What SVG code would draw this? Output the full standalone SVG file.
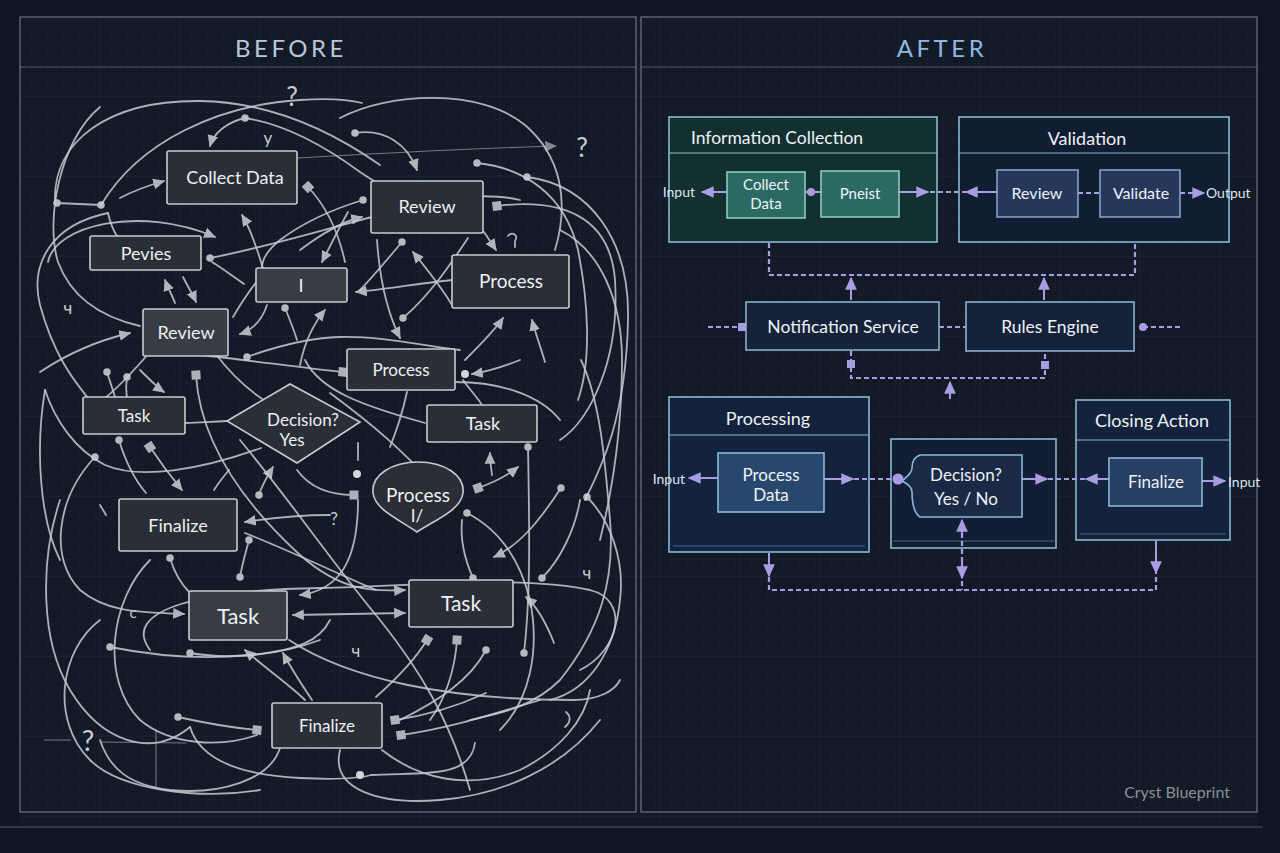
<svg xmlns="http://www.w3.org/2000/svg" width="1280" height="853" viewBox="0 0 1280 853">
<defs>
<pattern id="grid" width="16" height="16" patternUnits="userSpaceOnUse"><path d="M16,0 V16 H0" fill="none" stroke="#1c2534" stroke-width="0.6"/></pattern>
<pattern id="grid2" width="80" height="80" patternUnits="userSpaceOnUse" x="20" y="17"><path d="M80,0 V80 H0" fill="none" stroke="#212b3b" stroke-width="0.8"/></pattern>
<marker id="a" viewBox="0 0 10 10" refX="9" refY="5" markerWidth="12" markerHeight="12" markerUnits="userSpaceOnUse" orient="auto"><path d="M0,0.5 L10,5 L0,9.5 z" fill="#cdd0d5"/></marker>
<marker id="ar" viewBox="0 0 10 10" refX="9" refY="5" markerWidth="12" markerHeight="12" markerUnits="userSpaceOnUse" orient="auto-start-reverse"><path d="M0,0.5 L10,5 L0,9.5 z" fill="#cdd0d5"/></marker>
<marker id="d" viewBox="0 0 10 10" refX="5" refY="5" markerWidth="9" markerHeight="9" markerUnits="userSpaceOnUse"><circle cx="5" cy="5" r="4.2" fill="#d3d6da"/></marker>
<marker id="s" viewBox="0 0 10 10" refX="5" refY="5" markerWidth="10" markerHeight="10" markerUnits="userSpaceOnUse" orient="auto"><rect x="0.5" y="0.5" width="9" height="9" fill="#c9ccd1"/></marker>
<marker id="pa" viewBox="0 0 10 10" refX="9" refY="5" markerWidth="13" markerHeight="13" markerUnits="userSpaceOnUse" orient="auto-start-reverse"><path d="M0,0.5 L10,5 L0,9.5 z" fill="#a99ce3"/></marker>
<marker id="pq" viewBox="0 0 10 10" refX="5" refY="5" markerWidth="9" markerHeight="9" markerUnits="userSpaceOnUse"><rect x="0.5" y="0.5" width="9" height="9" fill="#a99ce3"/></marker>
<marker id="pc" viewBox="0 0 10 10" refX="5" refY="5" markerWidth="9" markerHeight="9" markerUnits="userSpaceOnUse"><circle cx="5" cy="5" r="4.5" fill="#a99ce3"/></marker>
<style>
.w{fill:none;stroke:#c8cbd1;stroke-width:1.8;stroke-linecap:round;opacity:.85}
.wt{fill:none;stroke:#b5b9c0;stroke-width:1.1;opacity:.6}
.nb{fill:#2a2e37;stroke:#c8cbd0;stroke-width:1.6}
.nb2{fill:#383c45;stroke:#c8cbd0;stroke-width:1.6}
.nt{font-family:Lato,"Noto Sans",sans-serif;fill:#eef0f2;text-anchor:middle}
.mk{font-family:Lato,"Noto Sans",sans-serif;fill:#c8ccd2;text-anchor:middle}
.ttl{font-family:Lato,"Noto Sans",sans-serif;font-size:24px;letter-spacing:3.5px;text-anchor:middle}
.g{stroke:#86b9d4;stroke-width:1.6}
.rt{font-family:Lato,"Noto Sans",sans-serif;fill:#eef2f6;text-anchor:middle}
.lab{font-family:Lato,"Noto Sans",sans-serif;fill:#dfe4f0;font-size:14px}
.p{fill:none;stroke:#a99ce3;stroke-width:2}
.pd{fill:none;stroke:#a99ce3;stroke-width:2.2;stroke-dasharray:5 3}
.frame{fill:none;stroke:#6d7584;stroke-width:1.2}
</style>
</defs>
<rect width="1280" height="853" fill="#0f1522"/>
<rect x="20" y="17" width="1237" height="810" fill="#121a27"/>
<rect x="20" y="17" width="1237" height="810" fill="url(#grid)"/>
<rect x="20" y="17" width="1237" height="810" fill="url(#grid2)"/>
<g id="frame">
<rect class="frame" x="20" y="17" width="616" height="795"/>
<rect class="frame" x="641" y="17" width="616" height="795"/>
<line class="frame" x1="0" y1="827" x2="1262" y2="827" opacity="0.7"/>
<line class="frame" x1="20" y1="67" x2="636" y2="67" opacity="0.7"/>
<line class="frame" x1="641" y1="67" x2="1257" y2="67" opacity="0.7"/>
<text class="ttl" x="291" y="57" fill="#b9c6d6">BEFORE</text>
<text class="ttl" x="942" y="57" fill="#8fb8e0">AFTER</text>
</g>

<g id="before-connectors">
<path class="w" d="M55,203 C52,140 110,100 200,101 C270,102 330,130 380,165"/>
<path class="w" d="M101,205 C140,140 220,105 300,100 C330,98 350,100 362,103"/>
<path class="w" d="M340,118 C390,92 480,88 525,125 C560,155 570,200 555,250"/>
<path class="w" d="M245,118 C228,122 214,132 210,146" marker-start="url(#d)" marker-end="url(#a)"/>
<path class="w" d="M245,118 C290,125 330,150 360,172 C375,182 388,190 400,195"/>
<path class="w" d="M355,133 C385,128 408,145 417,170" marker-start="url(#d)" marker-end="url(#a)"/>
<path class="w" d="M477,163 C525,168 565,195 578,250 C588,300 592,360 578,400" marker-start="url(#d)"/>
<path class="wt" d="M230,162 C330,156 450,149 556,146" marker-end="url(#a)"/>
<path class="w" d="M120,198 C135,190 150,185 164,181" marker-end="url(#a)"/>
<path class="w" d="M57,203 L101,205" marker-start="url(#d)" marker-end="url(#d)"/>
<path class="w" d="M48,262 C55,225 140,205 215,237" marker-end="url(#a)"/>
<path class="w" d="M108,213 C110,222 113,230 117,236"/>
<path class="w" d="M210,258 C280,245 370,215 440,200 C470,195 500,195 520,200" marker-start="url(#d)"/>
<path class="w" d="M267,282 C258,250 250,228 242,215" marker-end="url(#a)"/>
<path class="w" d="M308,187 C325,205 338,230 345,262" marker-start="url(#s)"/>
<path class="w" d="M348,212 C337,232 329,248 322,262" marker-end="url(#a)"/>
<path class="w" d="M175,303 C172,295 168,288 165,280" marker-end="url(#a)"/>
<path class="w" d="M183,277 C187,285 192,293 196,302" marker-end="url(#a)"/>
<path class="w" d="M212,262 C225,270 235,278 244,284"/>
<path class="w" d="M100,107 C60,140 45,220 58,262 C72,300 105,318 140,326"/>
<path class="w" d="M108,213 C50,225 30,265 40,305 C55,360 78,385 88,398"/>
<path class="w" d="M40,372 C70,352 100,340 130,333" marker-end="url(#a)"/>
<path class="w" d="M267,305 C262,320 252,330 240,334" marker-end="url(#a)"/>
<path class="w" d="M233,317 C240,305 250,290 258,280"/>
<path class="w" d="M285,308 C290,320 294,330 297,340" marker-start="url(#d)"/>
<path class="w" d="M300,365 C305,340 315,322 325,310" marker-end="url(#a)"/>
<path class="w" d="M247,357 C280,345 310,338 340,337 C380,336 420,345 460,350" marker-start="url(#d)"/>
<path class="w" d="M363,200 C330,210 300,225 280,240 C265,252 262,262 262,268" marker-start="url(#d)"/>
<path class="w" d="M300,250 C320,235 340,222 362,217" marker-end="url(#a)"/>
<path class="w" d="M402,242 C385,262 372,278 360,290" marker-start="url(#d)"/>
<path class="w" d="M452,280 C420,283 390,289 356,292" marker-end="url(#a)"/>
<path class="w" d="M377,240 C380,285 390,318 400,338" marker-end="url(#a)"/>
<path class="w" d="M452,305 C440,285 426,268 413,252" marker-end="url(#a)"/>
<path class="w" d="M468,238 C450,265 430,295 403,318" marker-end="url(#d)"/>
<path class="w" d="M465,360 C480,345 495,330 503,318" marker-end="url(#a)"/>
<path class="w" d="M545,362 C540,345 535,332 532,320" marker-end="url(#a)"/>
<path class="w" d="M497,206 C560,198 610,215 615,280 C620,360 590,420 560,440" marker-start="url(#s)"/>
<path class="w" d="M527,177 C590,185 630,240 628,320 C626,420 600,470 585,500" marker-start="url(#d)"/>
<path class="w" d="M560,230 C600,250 622,300 622,360 C622,440 610,500 600,540"/>
<path class="w" d="M484,232 C488,238 492,244 496,250" marker-end="url(#a)"/>
<path class="w" d="M150,352 C130,375 115,390 105,398"/>
<path class="w" d="M200,355 C250,360 300,368 343,372" marker-end="url(#s)"/>
<path class="w" d="M215,353 C235,380 258,398 280,410"/>
<path class="w" d="M305,360 C320,390 360,405 425,423"/>
<path class="w" d="M407,392 C402,415 396,432 390,447"/>
<path class="w" d="M520,360 C500,368 486,372 472,374" marker-end="url(#a)"/>
<path class="w" d="M463,380 C470,390 478,398 482,405"/>
<path class="w" d="M455,382 C500,382 540,395 560,420"/>
<path class="w" d="M107,372 C110,382 113,390 115,397" marker-start="url(#d)"/>
<path class="w" d="M127,377 C126,385 126,392 127,397" marker-start="url(#d)"/>
<path class="w" d="M140,370 C150,380 158,388 164,392" marker-end="url(#a)"/>
<path class="w" d="M186,423 C205,422 215,422 227,421"/>
<path class="w" d="M119,440 C125,460 135,480 146,493" marker-start="url(#d)"/>
<path class="w" d="M150,447 C160,462 172,478 182,490" marker-start="url(#s)" marker-end="url(#a)"/>
<path class="w" d="M214,490 C219,482 224,476 229,470"/>
<path class="w" d="M261,448 C200,470 140,480 105,465 C75,450 55,420 45,390"/>
<path class="w" d="M196,375 C200,440 240,500 300,555 C340,590 370,592 405,590" marker-start="url(#s)" marker-end="url(#a)"/>
<path class="w" d="M259,495 C262,485 268,475 273,467" marker-start="url(#d)" marker-end="url(#a)"/>
<path class="w" d="M297,470 C310,488 330,495 354,495" marker-end="url(#s)"/>
<path class="w" d="M358,443 L358,460"/>
<path class="w" d="M358,500 C358,560 340,590 300,595" marker-end="url(#a)"/>
<path class="w" d="M330,515 C300,515 270,518 245,522" marker-end="url(#a)"/>
<path class="w" d="M249,540 C245,555 242,565 240,577" marker-start="url(#d)" marker-end="url(#d)"/>
<path class="w" d="M245,533 C300,555 340,575 376,590"/>
<path class="w" d="M293,615 L405,613" marker-start="url(#ar)" marker-end="url(#ar)"/>
<path class="w" d="M170,558 C175,575 182,585 190,593" marker-start="url(#d)"/>
<path class="w" d="M150,650 C120,610 200,590 320,588 C420,586 520,575 590,590 C630,600 620,650 580,670"/>
<path class="w" d="M561,488 C540,520 520,545 494,557" marker-start="url(#d)" marker-end="url(#a)"/>
<path class="w" d="M581,360 C600,400 605,460 610,520 C615,580 600,630 560,680 C530,710 490,715 470,720"/>
<path class="w" d="M587,497 C610,520 625,560 620,600 C615,650 590,690 550,700" marker-start="url(#d)"/>
<path class="w" d="M542,578 C560,560 575,530 580,500" marker-start="url(#d)"/>
<path class="w" d="M524,653 C530,600 530,550 528,447" marker-start="url(#d)" marker-end="url(#d)"/>
<path class="w" d="M486,650 C470,680 440,700 400,720" marker-start="url(#d)"/>
<path class="w" d="M473,578 C465,560 460,540 462,520" marker-start="url(#d)"/>
<path class="w" d="M492,475 C491,467 490,461 490,453" marker-end="url(#a)"/>
<path class="w" d="M478,488 C495,482 508,475 518,467" marker-start="url(#s)" marker-end="url(#a)"/>
<path class="w" d="M467,513 C500,530 520,560 530,600 C540,650 530,700 500,730" marker-start="url(#d)"/>
<path class="w" d="M554,643 C545,620 535,605 526,597" marker-end="url(#a)"/>
<path class="w" d="M376,697 C395,680 415,660 427,640" marker-end="url(#s)"/>
<path class="w" d="M430,720 C445,700 455,670 457,640" marker-end="url(#s)"/>
<path class="w" d="M486,693 C460,705 430,715 395,720" marker-end="url(#s)"/>
<path class="w" d="M540,700 C490,715 450,728 401,735" marker-end="url(#s)"/>
<path class="w" d="M178,717 C200,722 225,727 257,730" marker-start="url(#d)" marker-end="url(#s)"/>
<path class="w" d="M305,700 C290,685 265,668 245,650" marker-end="url(#a)"/>
<path class="w" d="M312,700 C302,685 292,670 283,653" marker-end="url(#a)"/>
<path class="w" d="M289,640 C350,680 450,700 573,700 C600,700 615,690 620,680"/>
<path class="w" d="M110,647 C150,655 200,660 250,655 C300,650 320,640 330,620" marker-start="url(#d)"/>
<path class="w" d="M190,653 C230,660 280,655 320,640" marker-start="url(#d)"/>
<path class="w" d="M190,727 C200,760 240,775 300,778 C340,780 360,778 371,775 C420,772 470,780 475,743"/>
<path class="w" d="M100,620 C60,650 50,720 90,760 C120,790 200,800 260,790"/>
<path class="w" d="M60,500 C40,560 40,640 70,690 C100,740 150,760 190,727"/>
<path class="w" d="M95,457 C55,500 50,560 80,590 C110,615 150,612 184,614" marker-start="url(#d)" marker-end="url(#a)"/>
<path class="w" d="M150,560 C110,600 100,680 140,720 C170,745 220,748 257,735"/>
<path class="w" d="M382,750 C420,780 470,790 520,770 C560,750 585,720 590,690"/>
<path class="w" d="M340,750 C330,790 380,805 440,800 C500,795 560,770 600,720"/>
<path class="w" d="M280,748 C270,780 220,795 170,790 C130,785 110,770 100,740"/>
<path class="w" d="M240,440 C290,500 330,560 380,620 C420,670 450,720 470,790"/>
<path class="w" d="M45,390 C35,450 40,520 60,560"/>
<path class="w" d="M330,393 C380,430 400,450 420,470"/>
<path class="wt" d="M44,740 L71,740 M101,742 L186,743 M156,730 L156,787"/>
<circle cx="357" cy="474" r="4" fill="#d3d6da"/>
<circle cx="465" cy="374" r="4" fill="#d3d6da"/>
<circle cx="360" cy="775" r="4" fill="#d3d6da"/>
<path class="w" d="M100,505 L106,515 M566,712 C571,716 571,722 565,727 M508,236 C512,231 519,235 515,241 L515,247"/>
</g>

<g id="before-marks">
<text class="mk" x="292" y="106" font-size="26">?</text>
<text class="mk" x="582" y="157" font-size="26">?</text>
<text class="mk" x="88" y="751" font-size="28">?</text>
<text class="mk" x="268" y="144" font-size="17">y</text>
<text class="mk" x="68" y="314" font-size="17">ч</text>
<text class="mk" x="334" y="525" font-size="17">?</text>
<text class="mk" x="356" y="657" font-size="17">ч</text>
<text class="mk" x="587" y="579" font-size="17">ч</text>
<text class="mk" x="133" y="618" font-size="15">c</text>
</g>

<g id="b-collect"><rect class="nb" x="167" y="151" width="130" height="53" rx="2"/><text class="nt" x="235" y="184" font-size="18">Collect Data</text></g>
<g id="b-review1"><rect class="nb" x="371" y="181" width="112" height="52" rx="2"/><text class="nt" x="427" y="213" font-size="18">Review</text></g>
<g id="b-pevies"><rect class="nb" x="90" y="236" width="111" height="34" rx="2"/><text class="nt" x="146" y="260" font-size="18">Pevies</text></g>
<g id="b-i"><rect class="nb2" x="256" y="268" width="91" height="34" rx="2"/><text class="nt" x="301" y="292" font-size="18">I</text></g>
<g id="b-process1"><rect class="nb" x="452" y="255" width="117" height="53" rx="2"/><text class="nt" x="511" y="288" font-size="19">Process</text></g>
<g id="b-review2"><rect class="nb2" x="143" y="309" width="85" height="47" rx="2"/><text class="nt" x="186" y="339" font-size="18">Review</text></g>
<g id="b-process2"><rect class="nb" x="347" y="349" width="108" height="41" rx="2"/><text class="nt" x="401" y="376" font-size="17">Process</text></g>
<g id="b-task1"><rect class="nb" x="83" y="397" width="102" height="37" rx="2"/><text class="nt" x="134" y="422" font-size="17">Task</text></g>
<g id="b-decision"><path class="nb" d="M227,421 L290,384 L360,422 L297,463 Z"/><text class="nt" x="303" y="426" font-size="17">Decision?</text><text class="nt" x="292" y="446" font-size="17">Yes</text></g>
<g id="b-task2"><rect class="nb" x="427" y="405" width="110" height="37" rx="2"/><text class="nt" x="483" y="430" font-size="18">Task</text></g>
<g id="b-process3"><path class="nb" d="M417,532 C400,520 375,510 373,493 C371,475 392,462 418,462 C444,462 465,475 463,493 C461,510 435,520 417,532 Z"/><text class="nt" x="418" y="502" font-size="19">Process</text><text class="nt" x="417" y="522" font-size="17">I/</text></g>
<g id="b-finalize1"><rect class="nb" x="119" y="499" width="118" height="52" rx="2"/><text class="nt" x="178" y="532" font-size="18">Finalize</text></g>
<g id="b-task3"><rect class="nb2" x="189" y="591" width="98" height="49" rx="2"/><text class="nt" x="238" y="624" font-size="22">Task</text></g>
<g id="b-task4"><rect class="nb" x="409" y="580" width="104" height="47" rx="2"/><text class="nt" x="461" y="611" font-size="21">Task</text></g>
<g id="b-finalize2"><rect class="nb" x="272" y="703" width="110" height="45" rx="2"/><text class="nt" x="327" y="732" font-size="17">Finalize</text></g>

<g id="after-groups">
<g id="g-info"><rect class="g" x="669" y="117" width="268" height="125" fill="#12302f" stroke="#8cc4bc"/><line x1="669" y1="153" x2="937" y2="153" stroke="#8cc4bc" stroke-width="1.2"/><text class="rt" x="777" y="144" font-size="17.5">Information Collection</text></g>
<g id="g-val"><rect class="g" x="959" y="117" width="270" height="125" fill="#111d31"/><line x1="959" y1="153" x2="1229" y2="153" stroke="#86b9d4" stroke-width="1.2"/><text class="rt" x="1087" y="145" font-size="18">Validation</text></g>
<g id="g-proc"><rect class="g" x="669" y="397" width="200" height="155" fill="#13223d"/><line x1="669" y1="435" x2="869" y2="435" stroke="#86b9d4" stroke-width="1.2"/><line x1="673" y1="546" x2="865" y2="546" stroke="#86b9d4" stroke-width="0.8" opacity="0.6"/><text class="rt" x="768" y="425" font-size="18">Processing</text></g>
<g id="g-dec"><rect class="g" x="891" y="439" width="165" height="109" fill="#121e34"/><line x1="893" y1="541" x2="1054" y2="541" stroke="#86b9d4" stroke-width="0.8" opacity="0.6"/></g>
<g id="g-close"><rect class="g" x="1076" y="400" width="154" height="140" fill="#13223d"/><line x1="1076" y1="440" x2="1230" y2="440" stroke="#86b9d4" stroke-width="1.2"/><line x1="1080" y1="534" x2="1226" y2="534" stroke="#86b9d4" stroke-width="0.8" opacity="0.6"/><text class="rt" x="1152" y="427" font-size="18">Closing Action</text></g>
</g>

<g id="after-connectors">
<path class="p" d="M727,192 L702,192" marker-end="url(#pa)"/>
<path class="p" d="M805,192 L821,192"/><circle cx="811" cy="192" r="4" fill="#a99ce3"/>
<path class="p" d="M899,192 L928,192" marker-end="url(#pa)"/>
<path class="pd" d="M930,192 L966,192"/>
<path class="p" d="M997,192 L966,192" marker-end="url(#pa)"/>
<path class="pd" d="M1078,193 L1100,193"/>
<path class="pd" d="M1180,193 L1204,193" marker-end="url(#pa)"/>
<path class="pd" d="M769,243 V275 H1135 V243"/>
<path class="p" d="M851,300 L851,278" marker-end="url(#pa)"/>
<path class="p" d="M1044,300 L1044,278" marker-end="url(#pa)"/>
<path class="pd" d="M708,327 L742,327" marker-end="url(#pq)"/>
<path class="pd" d="M939,327 L966,327"/>
<path class="pd" d="M1143,327 L1183,327" marker-start="url(#pc)"/>
<path class="pd" d="M851,351 V378 H1045 V352"/>
<rect x="847" y="360" width="8" height="8" fill="#a99ce3"/>
<rect x="1041" y="361" width="8" height="8" fill="#a99ce3"/>
<path class="p" d="M950,399 L950,382" marker-end="url(#pa)"/>
<path class="p" d="M718,478 L689,478" marker-end="url(#pa)"/>
<path class="p" d="M824,479 L853,479" marker-end="url(#pa)"/>
<path class="pd" d="M854,479 L894,479"/>
<path class="p" d="M1022,479 L1047,479" marker-end="url(#pa)"/>
<path class="pd" d="M1048,479 L1086,479"/>
<path class="p" d="M1109,479 L1086,479" marker-end="url(#pa)"/>
<path class="p" d="M1202,481 L1225,481" marker-end="url(#pa)"/>
<path class="p" d="M769,553 L769,576" marker-end="url(#pa)"/>
<path class="pd" d="M769,577 V590 H1156 V573"/>
<path class="p" d="M1156,541 L1156,573" marker-end="url(#pa)"/>
<path class="pd" d="M962,533 L962,590"/>
<path class="p" d="M962,534 L962,520" marker-end="url(#pa)"/>
<path class="p" d="M962,560 L962,578" marker-end="url(#pa)"/>
</g>

<g id="a-collect"><rect x="727" y="172" width="78" height="46" fill="#2a6a62" stroke="#95cfc6" stroke-width="1.5"/><text class="rt" x="766" y="190" font-size="15">Collect</text><text class="rt" x="766" y="209" font-size="15">Data</text></g>
<g id="a-pneist"><rect x="821" y="171" width="78" height="46" fill="#2a6a62" stroke="#95cfc6" stroke-width="1.5"/><text class="rt" x="860" y="199" font-size="15">Pneist</text></g>
<g id="a-review"><rect x="997" y="170" width="81" height="47" fill="#25385c" stroke="#8aa8d0" stroke-width="1.5"/><text class="rt" x="1037" y="199" font-size="16">Review</text></g>
<g id="a-validate"><rect x="1100" y="170" width="80" height="47" fill="#25385c" stroke="#8aa8d0" stroke-width="1.5"/><text class="rt" x="1141" y="199" font-size="16">Validate</text></g>
<g id="a-notif"><rect x="746" y="302" width="193" height="48" fill="#15223a" stroke="#8ab0cc" stroke-width="1.6"/><text class="rt" x="843" y="333" font-size="17.5">Notification  Service</text></g>
<g id="a-rules"><rect x="966" y="302" width="168" height="49" fill="#15223a" stroke="#8ab0cc" stroke-width="1.6"/><text class="rt" x="1050" y="333" font-size="17.5">Rules  Engine</text></g>
<g id="a-procdata"><rect x="718" y="453" width="106" height="59" fill="#27486c" stroke="#8ab8d8" stroke-width="1.6"/><text class="rt" x="771" y="481" font-size="17">Process</text><text class="rt" x="771" y="501" font-size="17">Data</text></g>
<g id="a-decision"><path d="M920,455 H1022 V517 H920 C914,513 912,505 912,492 C912,486 906,483 902,481 C906,477 912,474 912,468 C912,461 914,457 920,455 Z" fill="#1a2a45" stroke="#8ab8d8" stroke-width="1.6"/><circle cx="898" cy="479" r="5.5" fill="#a99ce3"/><text class="rt" x="966" y="481" font-size="17">Decision?</text><text class="rt" x="966" y="505" font-size="17">Yes / No</text></g>
<g id="a-finalize"><rect x="1109" y="458" width="93" height="48" fill="#263f62" stroke="#8ab8d8" stroke-width="1.6"/><text class="rt" x="1156" y="488" font-size="17">Finalize</text></g>

<g id="after-labels">
<text class="lab" x="695" y="197" text-anchor="end">Input</text>
<text class="lab" x="1206" y="198">Output</text>
<text class="lab" x="685" y="484" text-anchor="end">Input</text>
<text class="lab" x="1228" y="487">Input</text>
<text x="1230" y="798" text-anchor="end" font-family="Lato, 'Noto Sans', sans-serif" font-size="16" fill="#8a909a">Cryst Blueprint</text>
</g>
</svg>
